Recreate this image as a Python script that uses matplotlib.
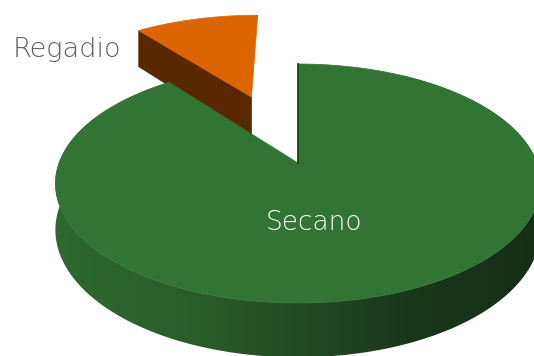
import numpy as np
import matplotlib.pyplot as plt
from matplotlib.patches import Polygon
from matplotlib.colors import LinearSegmentedColormap

# data
labels = ['Secano', 'Regadio']
values = [89.5, 10.5]
explode = [0.0, 0.666]
top_colors = ['#327434', '#dd6500']
side_colors = ['#2a5c29', '#5a2800']

# projection of the pie plane (radius 1) onto the picture, in pixels
CX, CY = 298, 163
A, B, K, D = 239, 116, 0.1715, 45


def proj(u, v, z=0.0):
    w = 1 + K * v
    return CX + A * u / w, CY - (B * v + D * z) / w


def arc(t0, t1, dx=0.0, dy=0.0, z=0.0, n=200):
    t = np.radians(np.linspace(t0, t1, n))
    return proj(np.cos(t) + dx, np.sin(t) + dy, z)


fig = plt.figure(figsize=(5.34, 3.56), dpi=100)
ax = fig.add_axes([0, 0, 1, 1])
ax.set_xlim(0, 534)
ax.set_ylim(356, 0)
ax.axis('off')

# angles: start at 12 o'clock, counterclockwise, Regadio first
fracs = np.array(values) / sum(values)
start = 90.0
spans = {}
for i in [1, 0]:
    spans[i] = (start, start + 360 * fracs[i])
    start += 360 * fracs[i]

# Regadio (exploded)
t0, t1 = spans[1]
mid = np.radians((t0 + t1) / 2)
ex, ey = explode[1] * np.cos(mid), explode[1] * np.sin(mid)
ct = np.radians(t1)
cu, cv = np.cos(ct) + ex, np.sin(ct) + ey
face = [proj(ex, ey), proj(cu, cv), proj(cu, cv, -1), proj(ex, ey, -1)]
ax.add_patch(Polygon(face, closed=True, fc=side_colors[1], ec=side_colors[1], lw=0.5))
xs, ys = arc(t0, t1, ex, ey)
ax.add_patch(Polygon(np.column_stack([np.r_[proj(ex, ey)[0], xs], np.r_[proj(ex, ey)[1], ys]]),
                     closed=True, fc=top_colors[1], ec=top_colors[1], lw=0.5))

# Secano wall with horizontal shading
t0, t1 = spans[0]
wt = arc(150, 420)
wb = arc(420, 150, z=-1)
wall = Polygon(np.column_stack([np.r_[wt[0], wb[0]], np.r_[wt[1], wb[1]]]), closed=True,
               fc='none', ec='none')
ax.add_patch(wall)
shade = LinearSegmentedColormap.from_list('shade', [
    (0.0, '#2f6830'), (0.3, '#2a5c29'), (0.5, '#234b22'),
    (0.75, '#18361a'), (1.0, '#152f17')])
grad = np.linspace(0, 1, 256).reshape(1, -1)
im = ax.imshow(grad, cmap=shade, extent=[55, 540, 356, 60], aspect='auto',
               interpolation='bilinear', zorder=1)
im.set_clip_path(wall)

# Secano top face
xs, ys = arc(t0, t1)
ax.add_patch(Polygon(np.column_stack([np.r_[CX, xs], np.r_[CY, ys]]), closed=True,
                     fc=top_colors[0], ec=top_colors[0], lw=0.5, zorder=2))
ex0, ey0 = proj(0, 1)
ax.plot([CX - 0.5, ex0 - 0.5], [CY, ey0], color='#173a18', lw=1.2, zorder=3)

# labels
ax.text(67, 50, labels[1], color='#5f5f5f', fontsize=19.5, family='DejaVu Sans',
        fontweight='light', ha='center', va='center', zorder=4)
ax.text(314, 222, labels[0], color='white', fontsize=19, family='DejaVu Sans',
        fontweight='light', ha='center', va='center', zorder=4)

fig.savefig('out.png', dpi=100)
